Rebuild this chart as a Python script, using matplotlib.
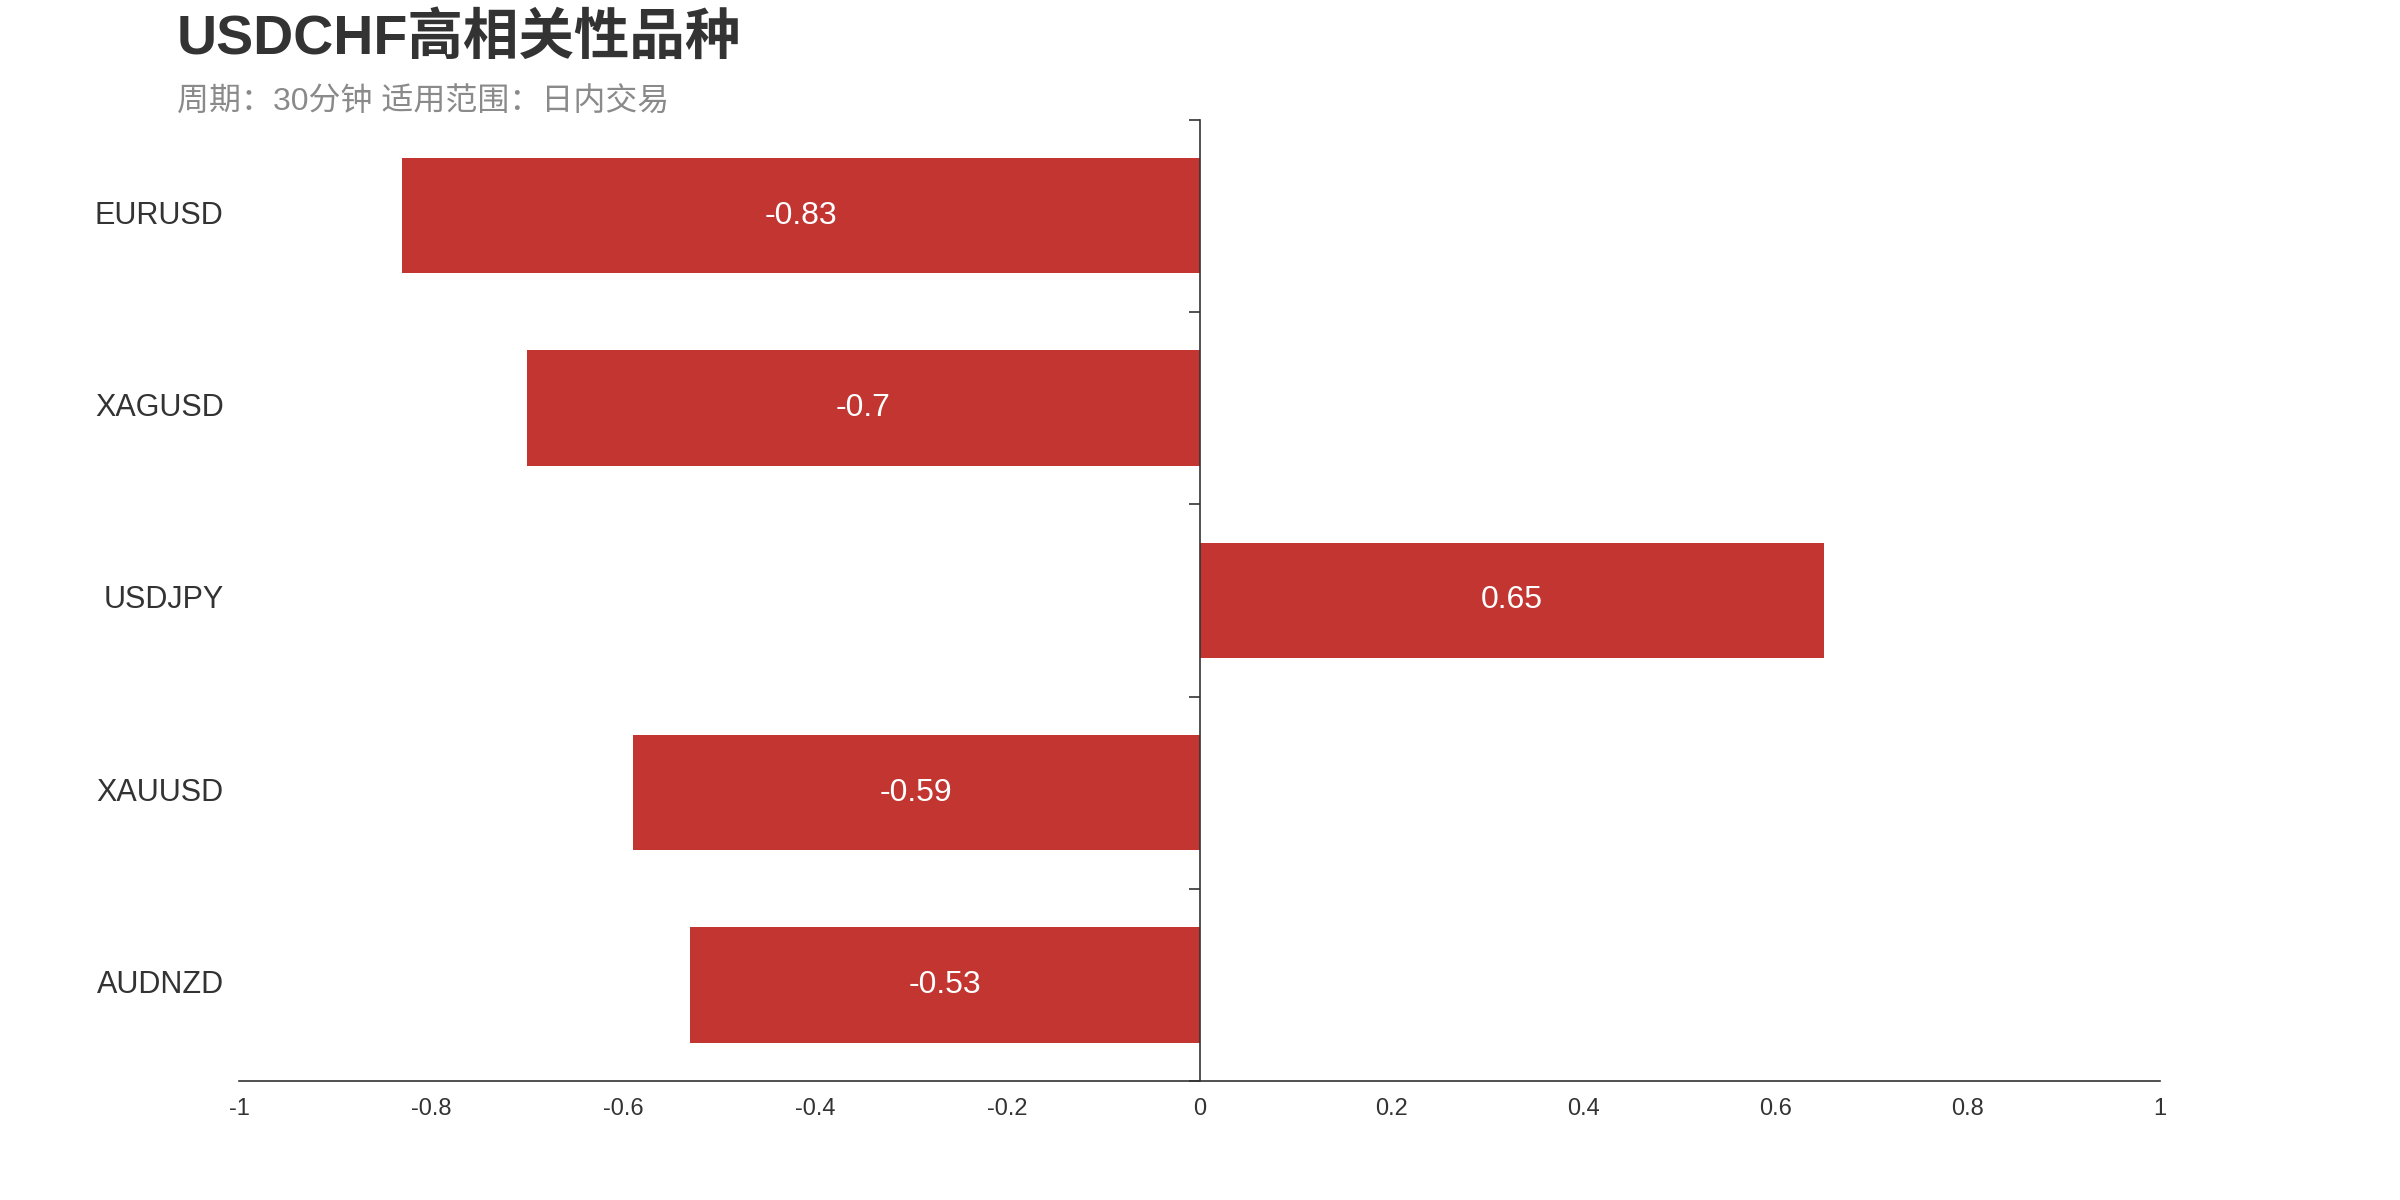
# USDCHF 高相关性品种 - 水平条形图

import matplotlib.pyplot as plt
from matplotlib.ticker import FuncFormatter, FixedLocator

# 数据
symbols = ['EURUSD', 'XAGUSD', 'USDJPY', 'XAUUSD', 'AUDNZD']
corr = [-0.83, -0.7, 0.65, -0.59, -0.53]
x_ticks = [-1, -0.8, -0.6, -0.4, -0.2, 0, 0.2, 0.4, 0.6, 0.8, 1]

title_text = 'USDCHF高相关性品种'
subtitle_text = '周期：30分钟 适用范围：日内交易'

plt.rcParams['font.family'] = ['Liberation Sans', 'Noto Sans CJK SC', 'DejaVu Sans']

fig = plt.figure(figsize=(24, 12), dpi=100)
ax = fig.add_axes([0.0996, 0.099, 0.8004, 0.8014])

ypos = list(range(len(symbols)))
bars = ax.barh(ypos, corr, height=0.6, color='#c23531')

# 条形上的数值
for y, v in zip(ypos, corr):
    ax.text(v / 2, y, '%g' % v, ha='center', va='center', color='white', fontsize=23)

ax.set_xlim(-1, 1)
ax.set_ylim(len(symbols) - 0.5, -0.5)

# 坐标轴样式
for s in ['top', 'right']:
    ax.spines[s].set_visible(False)
ax.spines['left'].set_position(('data', 0))
ax.spines['left'].set_color('#333333')
ax.spines['bottom'].set_color('#333333')
ax.spines['left'].set_linewidth(1.2)
ax.spines['bottom'].set_linewidth(1.2)

ax.xaxis.set_major_locator(FixedLocator(x_ticks))
ax.xaxis.set_major_formatter(FuncFormatter(lambda v, p: '%g' % round(v, 2)))
ax.tick_params(axis='x', length=0, pad=12, labelsize=17, labelcolor='#333333')

# y轴：分类边界刻度
ax.set_yticks([i - 0.5 for i in range(len(symbols) + 1)])
ax.set_yticklabels([])
ax.tick_params(axis='y', length=8, width=1.2, color='#333333', direction='out')

# 分类标签放在左侧
for y, name in zip(ypos, symbols):
    ax.text(-0.008, y, name, transform=ax.get_yaxis_transform(),
            ha='right', va='center', fontsize=22, color='#333333')

# 标题
fig.text(0.0738, 0.955, title_text, fontsize=40, fontweight='bold',
         color='#333333', ha='left', va='baseline')
fig.text(0.0738, 0.9075, subtitle_text, fontsize=23,
         color='#8a8a8a', ha='left', va='baseline')

plt.savefig('out.png', dpi=100)
